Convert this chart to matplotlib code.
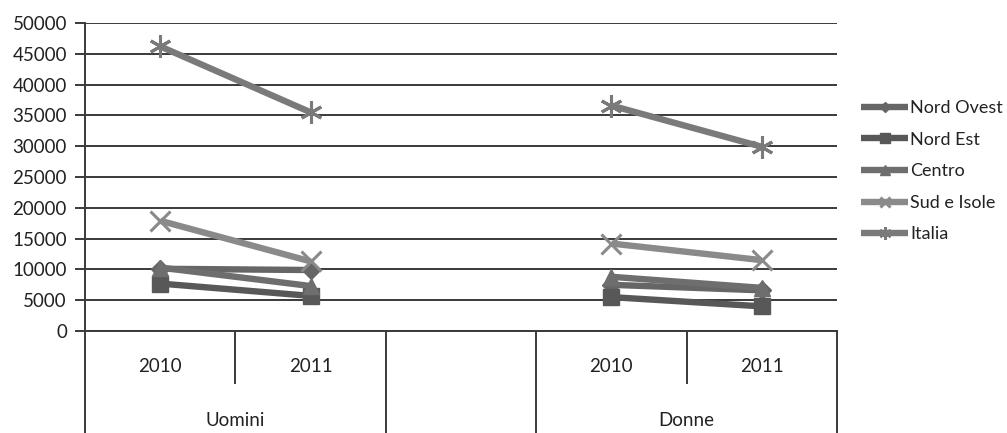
import matplotlib
matplotlib.use("Agg")
import matplotlib.pyplot as plt
import numpy as np

plt.rcParams['font.family'] = ['Lato', 'DejaVu Sans']

categories = ["2010", "2011", "", "2010", "2011"]
groups = ["Uomini", "Donne"]
nord_ovest = [10100, 9900, np.nan, 7500, 6600]
nord_est = [7700, 5700, np.nan, 5500, 4000]
centro = [10300, 7300, np.nan, 8800, 7000]
sud_isole = [17900, 11300, np.nan, 14200, 11500]
italia = [46200, 35500, np.nan, 36600, 29900]

series = [
    ("Nord Ovest", nord_ovest, "#666666", "D", 9),
    ("Nord Est", nord_est, "#585858", "s", 12),
    ("Centro", centro, "#6e6e6e", "^", 12),
    ("Sud e Isole", sud_isole, "#8a8a8a", "x", 14),
    ("Italia", italia, "#7a7a7a", (6, 2, 0), 16),
]

fig = plt.figure(figsize=(10.07, 4.33), dpi=100)
fig.patch.set_facecolor("white")
ax = fig.add_axes([85/1007, (433-331)/433, (837-85)/1007, 308/433])

x = np.arange(len(categories))
for name, vals, col, mk, ms in series:
    ax.plot(x, vals, color=col, lw=4.6, marker=mk, markersize=ms,
            markeredgecolor=col, markerfacecolor=col,
            markeredgewidth=2.2 if mk in ("x", (6, 2, 0)) else 1,
            label=name, solid_capstyle="butt")

ax.set_xlim(-0.5, 4.5)
ax.set_ylim(0, 50000)
ax.set_yticks(np.arange(0, 50001, 5000))
ax.yaxis.grid(True, color="#3a3a3a", lw=1.4)
ax.set_axisbelow(True)
ax.tick_params(axis="y", length=7, width=1.4, color="#3a3a3a", labelsize=13.5, labelcolor="#222222", pad=6)
ax.set_xticks([])
for s in ["top", "right"]:
    ax.spines[s].set_visible(False)
for s in ["left", "bottom"]:
    ax.spines[s].set_color("#3a3a3a")
    ax.spines[s].set_linewidth(1.4)

bottom = -102/308
short = -52/308
trans = ax.transAxes
def vline(xa, y0, y1):
    ax.plot([xa, xa], [y0, y1], transform=trans, color="#3a3a3a", lw=1.4, clip_on=False)

vline(0, 0, bottom)
vline(0.2, 0, short)
vline(0.4, 0, bottom)
vline(0.6, 0, bottom)
vline(0.8, 0, short)
vline(1.0, 0, bottom)

for i, c in enumerate(categories):
    if c:
        ax.text((i + 0.5)/5, -35/308, c, transform=trans, ha="center", va="center",
                fontsize=13.5, color="#222222")
ax.text(0.2, -89/308, groups[0], transform=trans, ha="center", va="center", fontsize=13.5, color="#222222")
ax.text(0.8, -89/308, groups[1], transform=trans, ha="center", va="center", fontsize=13.5, color="#222222")

leg = ax.legend(loc="upper left", bbox_to_anchor=(845/1007, (433-84)/433), bbox_transform=fig.transFigure,
                frameon=False, fontsize=13, handlelength=2.6, handletextpad=0.1,
                labelspacing=0.86, markerscale=0.55)
for t in leg.get_texts():
    t.set_color("#222222")

fig.savefig("out.png", dpi=100, facecolor="white")
